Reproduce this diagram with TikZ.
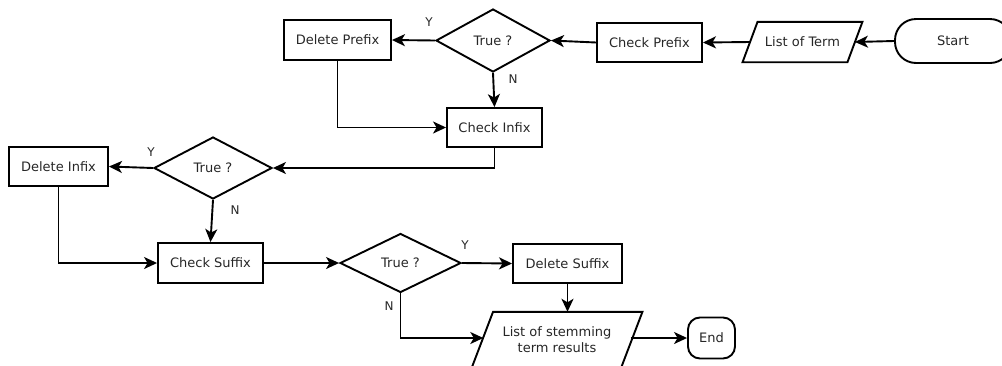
\documentclass[tikz,border=0pt]{standalone}
\usepackage{fontspec}
\setmainfont{DejaVu Sans}
\usetikzlibrary{shapes.geometric,arrows.meta}
\begin{document}
\begin{tikzpicture}[x=1pt,y=-1pt,
  every node/.style={font=\fontsize{13}{16}\selectfont, text=black!85},
  outline/.style={line width=1.9pt, line join=miter},
  base/.style={draw, outline, inner sep=0pt},
  procbox/.style={base, rectangle},
  decide/.style={base, diamond},
  iobox/.style={rectangle, inner sep=0pt},
  termbox/.style={base, rectangle},
  arr/.style={line width=1.9pt, -{Stealth[length=13pt,width=12pt,inset=3.5pt]}},
  lbl/.style={font=\fontsize{12}{14}\selectfont, inner sep=0pt}
]
\useasboundingbox (0,0) rectangle (1002,365);

\node[termbox, rounded corners=21pt, minimum width=116, minimum height=44] (start) at (953,41) {Start};
\node[iobox, minimum width=104.5, minimum height=40] (lt) at (802.5,42) {List of Term};
\draw[outline] ([xshift=7.5pt]lt.north west) -- ([xshift=7.5pt]lt.north east)
  -- ([xshift=-7.5pt]lt.south east) -- ([xshift=-7.5pt]lt.south west) -- cycle;
\node[procbox, minimum width=105, minimum height=39] (cp) at (649.5,42.5) {Check Prefix};
\node[decide, minimum width=114, minimum height=63] (d1) at (493,40.5) {True ?};
\node[procbox, minimum width=107, minimum height=40] (dp) at (337.5,40) {Delete Prefix};
\node[procbox, minimum width=95, minimum height=39] (ci) at (494.5,127.5) {Check Infix};
\node[decide, minimum width=118, minimum height=62] (d2) at (213,168) {True ?};
\node[procbox, minimum width=99, minimum height=39] (di) at (58.5,166.5) {Delete Infix};
\node[procbox, minimum width=105, minimum height=40] (cs) at (210.5,263) {Check Suffix};
\node[decide, minimum width=121, minimum height=59] (d3) at (400.5,263) {True ?};
\node[procbox, minimum width=109, minimum height=39] (ds) at (567.5,263.5) {Delete Suffix};
\node[iobox, minimum width=149, minimum height=56, align=center] (lr) at (557,340) {List of stemming\\term results};
\draw[outline] ([xshift=10.75pt]lr.north west) -- ([xshift=10.75pt]lr.north east)
  -- ([xshift=-10.75pt]lr.south east) -- ([xshift=-10.75pt]lr.south west) -- cycle;
\node[termbox, rounded corners=12pt, minimum width=47, minimum height=41] (en) at (711.5,338) {End};

\node[lbl] (y1) at (429,22) {Y};
\node[lbl] (n1) at (513,79) {N};
\node[lbl] (y2) at (151,152) {Y};
\node[lbl] (n2) at (235,210) {N};
\node[lbl] (y3) at (465,245) {Y};
\node[lbl] (n3) at (389,306) {N};

\draw[arr] (start.west) -- (lt.east);
\draw[arr] (lt.west) -- (cp.east);
\draw[arr] (cp.west) -- (d1.east);
\draw[arr] (d1.west) -- (dp.east);
\draw[arr] (d1.south) -- (ci.north);
\draw[arr] (dp.south) |- (ci.west);
\draw[arr] (ci.south) |- (d2.east);
\draw[arr] (d2.west) -- (di.east);
\draw[arr] (d2.south) -- (cs.north);
\draw[arr] (di.south) |- (cs.west);
\draw[arr] (cs.east) -- (d3.west);
\draw[arr] (d3.east) -- (ds.west);
\draw[arr] (ds.south) -- (ds.south |- lr.north);
\draw[arr] (d3.south) |- ([xshift=1pt]lr.west |- en.west);
\draw[arr] ([xshift=-1pt]lr.east |- en.west) -- (en.west);
\end{tikzpicture}
\end{document}
